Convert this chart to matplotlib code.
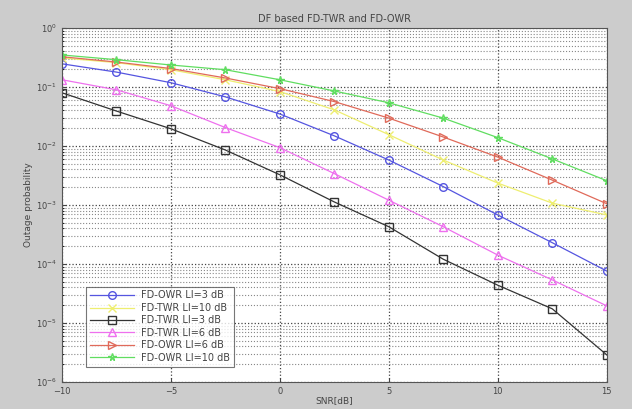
import numpy as np
import matplotlib
matplotlib.use("Agg")
import matplotlib.pyplot as plt
from matplotlib.ticker import LogLocator, NullFormatter

snr_db = [-10, -7.5, -5, -2.5, 0, 2.5, 5, 7.5, 10, 12.5, 15]

# log10 of outage probability
owr_li3_log = [-0.61, -0.75, -0.93, -1.17, -1.46, -1.83, -2.24, -2.69, -3.17, -3.64, -4.12]
twr_li10_log = [-0.51, -0.59, -0.71, -0.88, -1.08, -1.39, -1.81, -2.24, -2.63, -2.97, -3.17]
twr_li3_log = [-1.10, -1.41, -1.71, -2.07, -2.49, -2.95, -3.37, -3.92, -4.36, -4.76, -5.54]
twr_li6_log = [-0.88, -1.05, -1.32, -1.69, -2.03, -2.47, -2.92, -3.37, -3.85, -4.27, -4.71]
owr_li6_log = [-0.49, -0.58, -0.69, -0.85, -1.03, -1.25, -1.53, -1.85, -2.19, -2.58, -2.98]
owr_li10_log = [-0.46, -0.54, -0.63, -0.71, -0.88, -1.07, -1.27, -1.53, -1.86, -2.22, -2.59]

labels = ["FD-OWR LI=3 dB", "FD-TWR LI=10 dB", "FD-TWR LI=3 dB",
          "FD-TWR LI=6 dB", "FD-OWR LI=6 dB", "FD-OWR LI=10 dB"]
series = [owr_li3_log, twr_li10_log, twr_li3_log, twr_li6_log, owr_li6_log, owr_li10_log]
colors = ["#5555e0", "#eeee70", "#333333", "#ee70ee", "#e06a5a", "#60dd60"]
markers = ["o", "x", "s", "^", ">", "*"]

fig = plt.figure(figsize=(6.32, 4.09), dpi=100, facecolor="#cccccc")
ax = fig.add_axes([0.098, 0.066, 0.862, 0.866])
ax.set_facecolor("white")

for vals, lab, c, m in zip(series, labels, colors, markers):
    y = 10.0 ** np.array(vals)
    ax.semilogy(snr_db, y, color=c, marker=m, markersize=5.5, markerfacecolor="none",
                markeredgecolor=c, linewidth=0.9, label=lab)

ax.set_xlim(-10, 15)
ax.set_ylim(1e-6, 1)
ax.set_xticks([-10, -5, 0, 5, 10, 15])
ax.yaxis.set_major_locator(LogLocator(base=10, numticks=10))
ax.yaxis.set_minor_locator(LogLocator(base=10, subs=np.arange(2, 10), numticks=20))
ax.yaxis.set_minor_formatter(NullFormatter())
ax.grid(True, which="major", linestyle=":", color="#444444", linewidth=0.9)
ax.grid(True, which="minor", axis="y", linestyle=":", color="#888888", linewidth=0.8)
ax.tick_params(labelsize=6, direction="in", length=3, colors="#444444")
ax.tick_params(which="minor", direction="in", length=1.5)
ax.xaxis.get_offset_text().set_visible(False)
ax.yaxis.get_offset_text().set_visible(False)
for s in ax.spines.values():
    s.set_color("#555555")
    s.set_linewidth(0.8)

ax.set_title("DF based FD-TWR and FD-OWR", fontsize=7, color="#444444", pad=4)
ax.set_xlabel("SNR[dB]", fontsize=6.5, color="#444444", labelpad=0)
ax.set_ylabel("Outage probability", fontsize=6.5, color="#444444", labelpad=2)

leg = ax.legend(loc="lower left", bbox_to_anchor=(0.035, 0.03), fontsize=7,
                frameon=True, fancybox=False, edgecolor="#555555",
                handlelength=4.5, borderpad=0.4, labelspacing=0.25)
leg.get_frame().set_linewidth(0.8)
for t in leg.get_texts():
    t.set_color("#444444")

fig.savefig("out.png", dpi=100, facecolor=fig.get_facecolor())
